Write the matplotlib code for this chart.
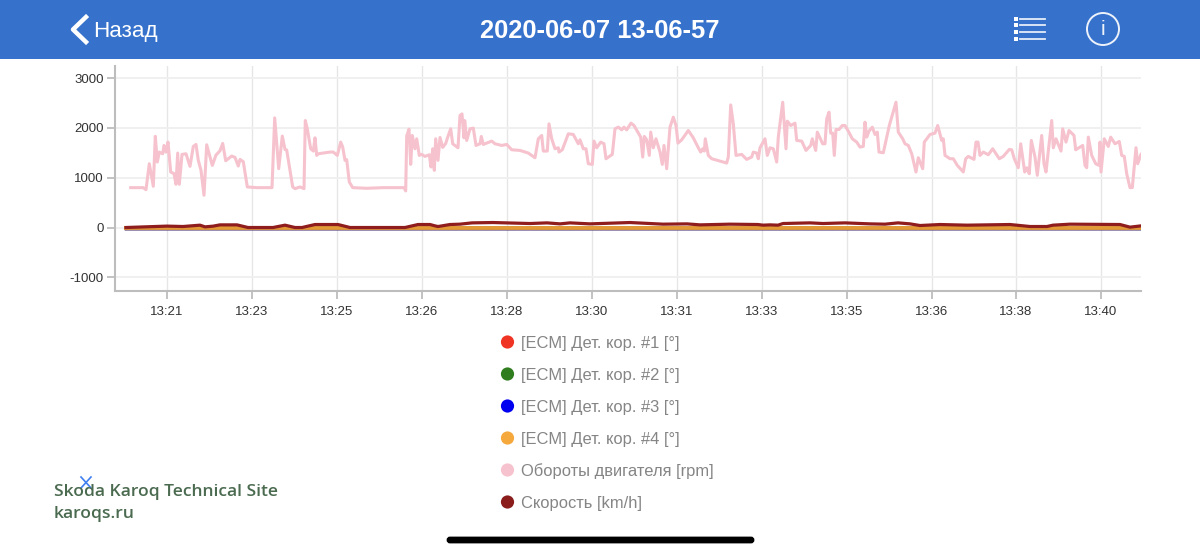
"""Engine log chart from the phone app, rpm and speed over time."""
import matplotlib
matplotlib.use('Agg')
import matplotlib.pyplot as plt
from matplotlib.patches import Rectangle, Circle, FancyBboxPatch

# x axis = sample number, a tick label every 85 samples
rpm_x = [15.7, 28.3, 31, 34.3, 38.3, 40.3, 42.3, 44.3, 47.7, 49, 51, 53, 55.7, 59, 61, 62.7, 64.3, 67, 71, 75,
         78.3, 81, 83.3, 86, 89, 91.7, 97.3, 101, 105, 107.7, 110.7, 116.7, 120, 123.3, 125, 128.3, 132.3, 141.7,
         157, 159.7, 163.7, 167.3, 170, 171.7, 175, 177.7, 180, 185, 189, 190.3, 192.3, 195.7, 198.3, 200, 201.7,
         203.3, 215, 218.3, 222.3, 225.7, 227.7, 230, 231.7, 234.3, 237.7, 251.7, 268.3, 289, 290.7, 291.7, 294,
         295.7, 297.3, 300, 301.7, 304.3, 306.7, 310, 314.3, 316, 317.7, 319.3, 320.7, 323, 325, 327.7, 330.7, 333.3,
         335.7, 337.7, 343, 345, 347, 349, 349.7, 351.7, 355, 358.3, 361, 365, 366.3, 368.3, 376.7, 380, 386.7,
         391.7, 396.7, 405, 413.3, 420, 423.3, 426.7, 428.3, 432.3, 434, 436.7, 440, 443.3, 444, 447.3, 453.3,
         458.3, 463.3, 465, 468.3, 471, 473.3, 477.3, 479, 481.7, 485.7, 489, 491, 497.3, 500, 503.3, 506.7, 509,
         511.7, 516, 519, 525.7, 527.7, 529.3, 531.7, 534.3, 535.7, 538.3, 541, 545, 547.3, 549, 551.7, 555, 558.3,
         561, 563, 566.7, 573.3, 578.3, 583.3, 585.7, 587.7, 589.3, 590.3, 593.3, 596.7, 611.7, 613.3, 615.7, 618.3,
         621, 626.7, 631.7, 636.7, 638.3, 641.7, 643.3, 645, 650, 652.3,
         655, 658.3, 661.7, 663.3, 667.7, 671, 672.3, 675.7, 680, 681.7, 686.7, 691, 695.7, 697.3, 700.7, 702.3,
         707.7, 710, 711.7, 714, 715.7, 717.7, 719.3, 721, 724, 727.3, 730, 733.3, 737.3, 741.7, 745, 748.3, 750,
         751.7, 754, 757.3, 760, 762.3, 764, 768.3, 774.3, 781, 783.3, 787.7, 790, 793.3, 796.7, 801, 803.3, 807.7,
         809.3, 815, 820, 822.7, 826.7, 828.3, 830, 835, 838.3, 842.3, 848.3, 850.7, 853.3, 859, 861, 863, 865,
         868.3, 873.3, 877.7, 884.3, 888.3, 894.3, 896.7, 899.3, 903.3, 905.7, 909.7, 911.7, 914.3, 916.3, 920,
         922.3, 926.7, 929, 931, 936.7, 938.3, 941, 946, 947.7, 951, 954, 959, 960.7, 967.7, 970, 971.7, 973.3,
         976.7, 980.7, 984, 985, 986, 989.3, 993.3, 995.7, 1000, 1004.3, 1006.7, 1009.3, 1011.7, 1015, 1017.3, 1021,
         1022.7, 1026]
rpm = [800, 800, 760, 1280, 827, 1830, 1314, 1514, 1480, 1647, 1514, 1714, 1114, 1080, 867, 1494, 867, 1467, 1480, 1227,
       1627, 1667, 1347, 1147, 647, 1660, 1247, 1454, 1540, 1687, 1340, 1434, 1407, 1234, 1367, 1320, 814, 800,
       800, 2200, 1180, 1834, 1567, 1554, 1154, 814, 780, 814, 780, 2147, 1980, 1580, 1534, 1800, 1447,
       1480, 1514, 1514, 1447, 1714, 1614, 1347, 1360, 914, 800, 787, 800, 800, 734, 1840, 1974,
       1267, 1847, 1580, 1780, 1447, 1467, 1427, 1460, 1214, 1580, 1147, 1780, 1347, 1807, 1607, 1687, 1847,
       1980, 1680, 1600, 2247, 2280, 1800, 2147, 1747, 1980, 1994, 1647, 1680, 1827, 1667, 1734, 1680, 1647,
       1667, 1560, 1547, 1494, 1400, 1780, 1847, 1534, 1534, 2080, 1780, 1580, 1600, 1514, 1560, 1880,
       1867, 1680, 1760, 1580, 1580, 1280, 1267, 1734, 1600, 1714, 1680, 1380, 1467, 1980, 2014, 1960, 2014,
       1960, 2094, 2047, 1814, 1414, 1827, 1760, 1447, 1914, 1600, 1780, 1514, 1267, 1647, 1180, 2014, 2214,
       2047, 1694, 1760, 1947, 1800, 1600, 1514, 1580, 1534, 1780, 1447, 1380, 1294, 1414, 2460, 2080,
       1447, 1467, 1367, 1414, 1514, 1494, 1380, 1600, 1780, 1447,
       1600, 1580, 1314, 1814, 2514, 1580, 2134, 2047, 2094, 1747, 1734, 1547, 1647, 1780, 1547, 1914,
       1680, 1680, 2180, 2314, 1894, 1894, 1447, 1967, 1967, 2047, 2047, 1934, 1780, 1714, 1614, 1627, 2114,
       1814, 1934, 2014, 1867, 1914, 1514, 1500, 2047, 2514, 1914, 1780, 1680, 1647, 1480, 1114, 1400, 1180,
       1714, 1867, 1894, 2047, 1747, 1780, 1447, 1380, 1380, 1247, 1114, 1380, 1427, 1367, 1714, 1714, 1447,
       1514, 1460, 1580, 1380, 1427, 1567, 1560, 1380, 1200, 1680, 1114, 1200, 1080, 1747, 1414,
       1047, 1847, 1280, 1114, 2147, 1600, 1780, 1534, 1980, 1714, 1947, 1847, 1560, 1647, 1247, 1200, 1814,
       1447, 1280, 1247, 1714, 1114, 1780, 1627, 1814, 1680, 1727, 1447, 1427, 1080, 800, 800, 1600,
       1280, 1467]

speed_x = [11, 52, 68, 85, 90, 98, 105, 122, 133, 158, 170, 180, 187, 200, 223, 235, 290, 303, 315, 320, 323, 327,
           335, 345, 357, 378, 415, 432, 445, 455, 475, 515, 548, 572, 585, 615, 643, 648, 655, 663, 668, 695,
           708, 730, 755, 770, 783, 795, 805, 825, 852, 895, 915, 932, 938, 955, 1005, 1015, 1026]
speed = [0, 28, 20, 47, 13, 27, 53, 53, 0, 0, 47, 0, 0, 60, 60, 0, 0, 60, 60, 33, 20, 33,
         60, 67, 93, 100, 80, 93, 73, 93, 73, 100, 67, 73, 53, 67, 60, 47, 53, 47, 80, 93,
         80, 93, 73, 67, 93, 73, 40, 60, 47, 60, 20, 20, 47, 67, 60, 7, 33]

knock_x = [11, 1026]
knock_1 = [0, 0]
knock_2 = [0, 0]
knock_3 = [0, 0]
knock_4 = [0, 0]

tick_x = [52, 137, 222, 307, 392, 477, 562, 647, 732, 817, 901, 986]
tick_labels = ['13:21', '13:23', '13:25', '13:26', '13:28', '13:30',
               '13:31', '13:33', '13:35', '13:36', '13:38', '13:40']
y_ticks = [-1000, 0, 1000, 2000, 3000]
y_labels = ['-1000', '0', '1000', '2000', '3000']

legend_names = ['[ECM] Дет. кор. #1 [°]', '[ECM] Дет. кор. #2 [°]', '[ECM] Дет. кор. #3 [°]',
                '[ECM] Дет. кор. #4 [°]', 'Обороты двигателя [rpm]', 'Скорость [km/h]']
legend_colors = ['#F03424', '#2F7D1E', '#0000F0', '#F5A83C', '#F6C2CD', '#8A1C1C']

plt.rcParams['font.family'] = ['Liberation Sans', 'DejaVu Sans']

fig = plt.figure(figsize=(12, 5.55), dpi=100)
W, H = 1200, 555

# plot
ax = fig.add_axes([115 / W, 1 - 290.5 / H, 1026 / W, 224.5 / H])
ax.plot(knock_x, knock_1, color=legend_colors[0], lw=2.5)
ax.plot(knock_x, knock_2, color=legend_colors[1], lw=2.5)
ax.plot(knock_x, knock_3, color=legend_colors[2], lw=2.5)
ax.plot(knock_x, knock_4, color='#E39A34', lw=2.8)
ax.plot(rpm_x, rpm, color=legend_colors[4], lw=2.2)
ax.plot(speed_x, speed, color='#8F1D1D', lw=2.3)
ax.set_xlim(0, 1026)
ax.set_ylim(-1264, 3241)
ax.set_xticks(tick_x)
ax.set_xticklabels(tick_labels)
ax.set_yticks(y_ticks)
ax.set_yticklabels(y_labels)
ax.grid(True, axis='y', color='#EFEFEF', lw=1.3)
ax.grid(True, axis='x', color='#E6E6E6', lw=1)
ax.set_axisbelow(True)
for s in ['top', 'right']:
    ax.spines[s].set_visible(False)
for s in ['left', 'bottom']:
    ax.spines[s].set_color('#BDBDBD')
    ax.spines[s].set_linewidth(1.5)
ax.tick_params(axis='both', color='#BDBDBD', width=1.3, length=5.5, labelsize=9.5,
               labelcolor='#333333')
ax.tick_params(axis='x', pad=6)
ax.tick_params(axis='y', pad=2.5)

# app chrome, in pixels
ui = fig.add_axes([0, 0, 1, 1], zorder=5)
ui.set_xlim(0, W)
ui.set_ylim(H, 0)
ui.axis('off')
ui.patch.set_alpha(0)

ui.add_patch(Rectangle((0, 0), W, 59, color='#3672CC', lw=0))
ui.plot([86, 73, 86], [17, 29.5, 42], color='white', lw=3.2)
ui.text(93.5, 31, 'Назад', color='white', fontsize=16.2, va='center')
ui.text(600, 30.5, '2020-06-07 13-06-57', color='white', fontsize=18.4, fontweight='bold',
        ha='center', va='center')

# list icon
for y in [19, 25, 32, 39]:
    ui.add_patch(Rectangle((1014, y - 2), 4, 4, fc='white', ec='none'))
    ui.plot([1020, 1045], [y, y], color='#E6ECF8', lw=1.3)
# info icon
ui.add_patch(Circle((1103, 29), 16, fc='none', ec='#EEF2FA', lw=1.4))
ui.text(1103, 29.5, 'i', color='#EEF2FA', fontsize=15, ha='center', va='center')

# legend
legend_y = [342, 374, 406, 438, 470, 502]
for name, col, y in zip(legend_names, legend_colors, legend_y):
    ui.add_patch(Circle((507.5, y), 6.6, fc=col, ec='none'))
    ui.text(521, y + 1.5, name, color='#858585', fontsize=11.85, va='center')

# watermark
ui.text(54, 492, 'Skoda Karoq Technical Site', color='#4B6B50', fontsize=12.6,
        family='Open Sans', fontweight='semibold', va='center')
ui.text(54, 514, 'karoqs.ru', color='#4B6B50', fontsize=12.6,
        family='Open Sans', fontweight='semibold', va='center')
ui.plot([81, 91], [477, 488], color='#3F7FEF', lw=1.2)
ui.plot([91, 81], [477, 488], color='#3F7FEF', lw=1.2)

# home bar
ui.add_patch(FancyBboxPatch((448, 538), 305, 4, boxstyle='round,pad=0,rounding_size=2',
                            fc='black', ec='black', lw=2))

fig.savefig('out.png', dpi=100)
